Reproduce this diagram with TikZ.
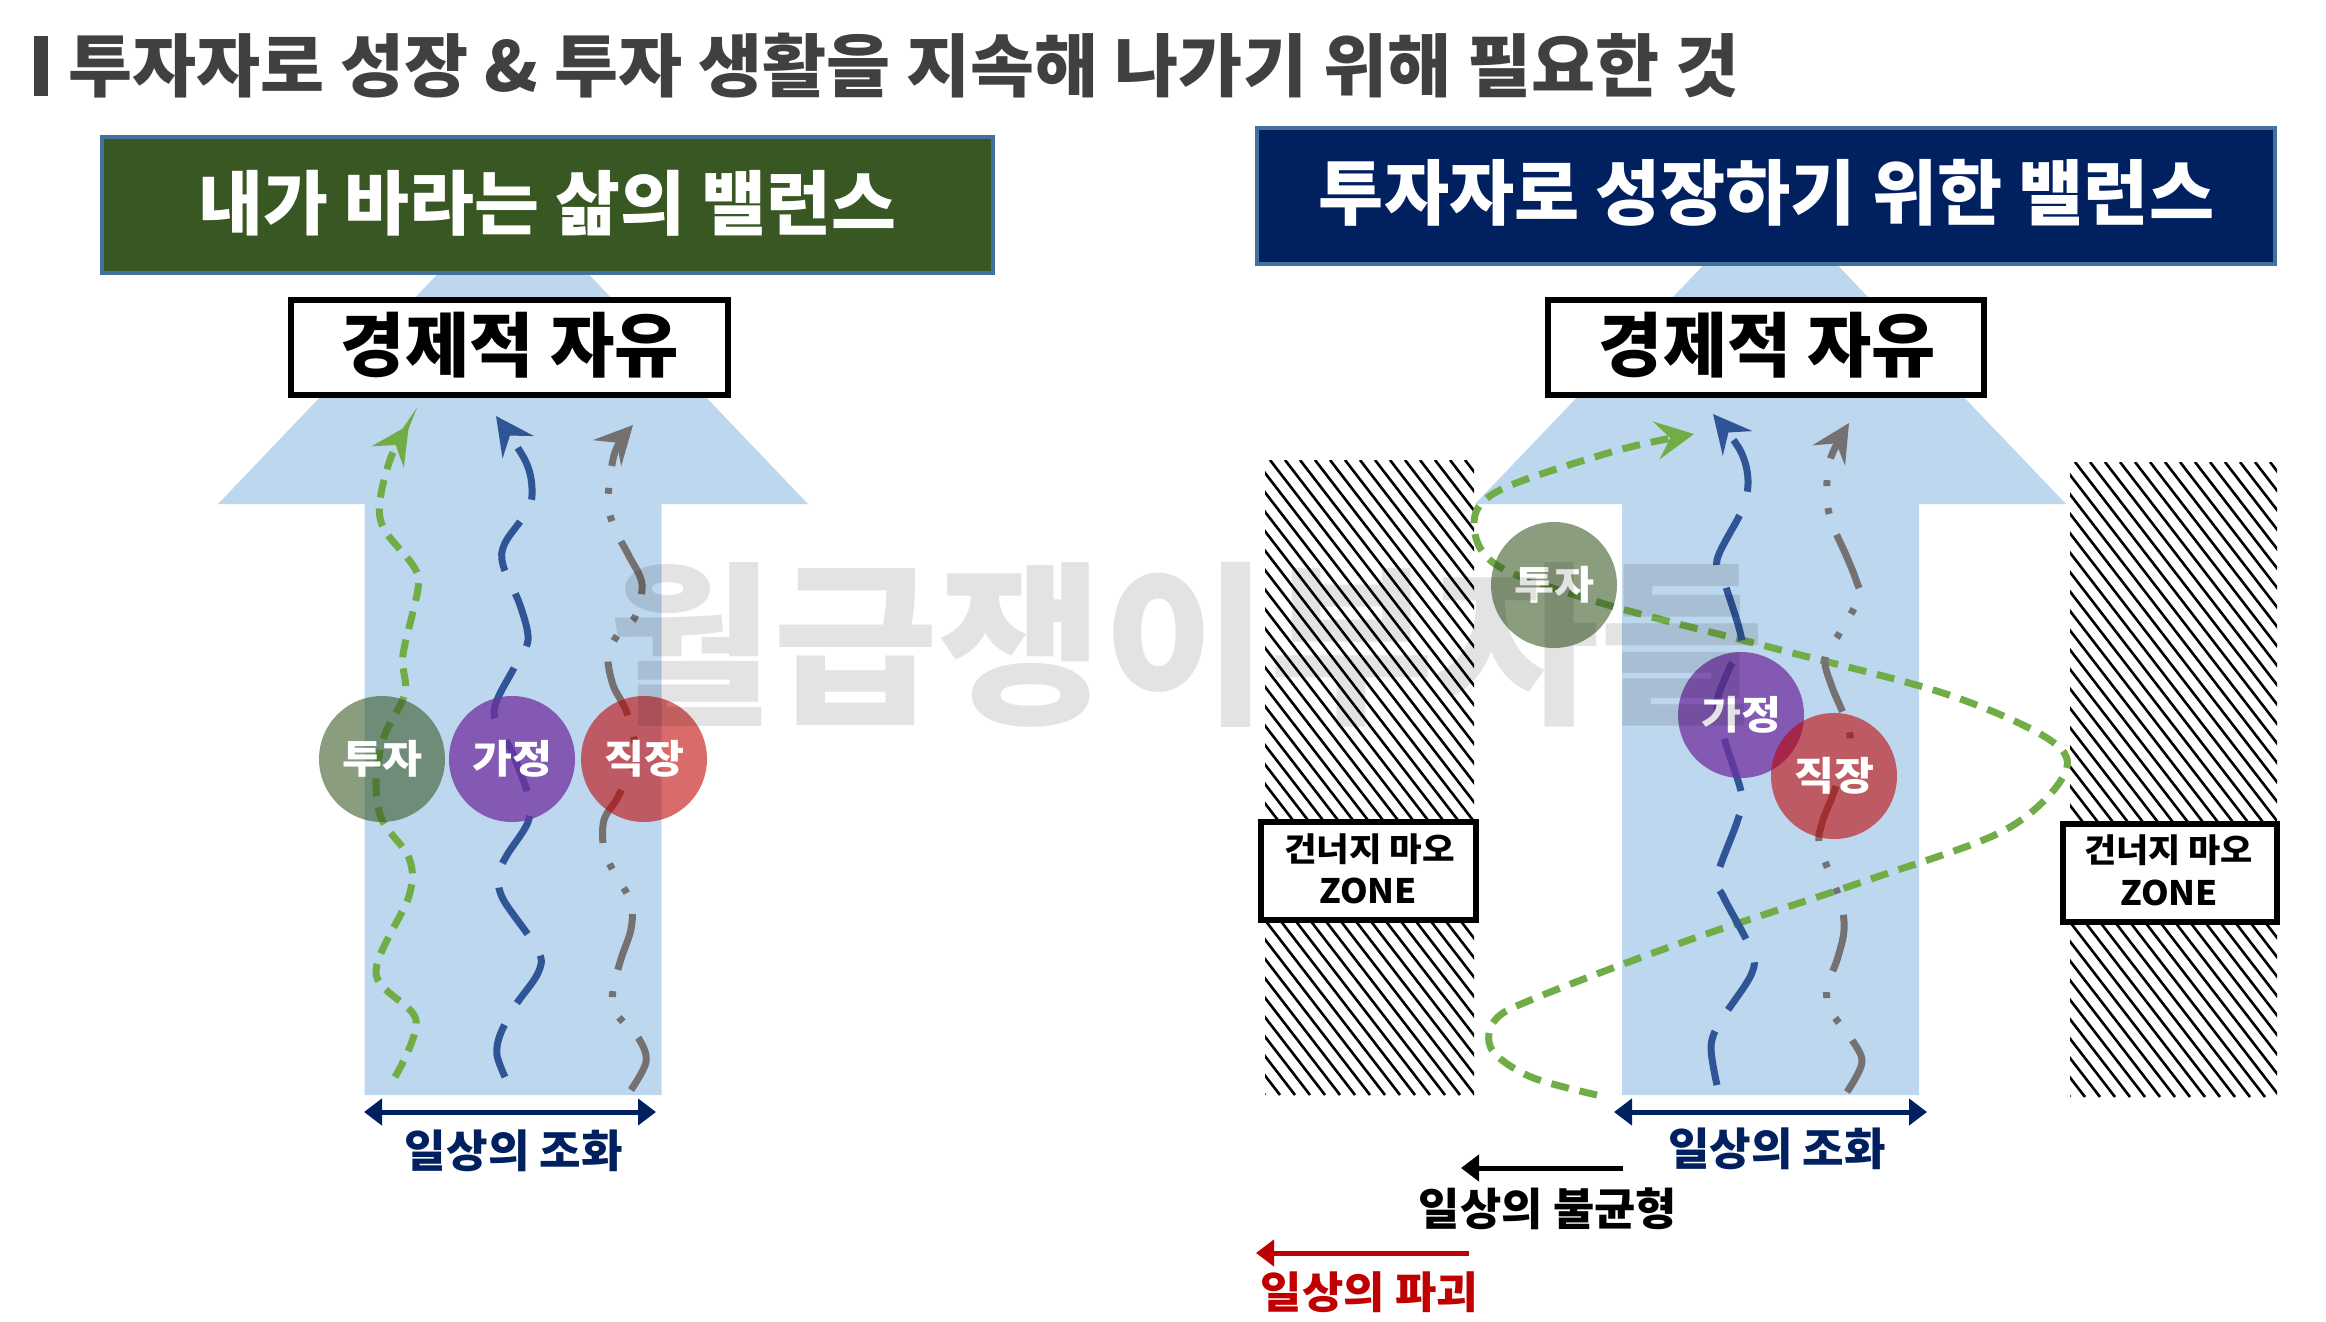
\documentclass[tikz,border=0pt]{standalone}
\usepackage{fontspec}
\usepackage{graphicx}
\setmainfont{Noto Sans CJK KR}
\usetikzlibrary{arrows.meta}
\definecolor{tgrey}{HTML}{404040}
\definecolor{hgreen}{HTML}{385723}
\definecolor{hnavy}{HTML}{002060}
\definecolor{hborder}{HTML}{41719C}
\definecolor{arrowblue}{HTML}{BDD7EE}
\definecolor{lgreen}{HTML}{70AD47}
\definecolor{lblue}{HTML}{2F5597}
\definecolor{lgrey}{HTML}{767171}
\definecolor{cpurple}{HTML}{7030A0}
\definecolor{cred}{HTML}{C00000}
\newcommand\fitbox[3]{\resizebox*{#1pt}{#2pt}{\bfseries #3}}
\begin{document}
\begin{tikzpicture}[x=1pt,y=-1pt,
  every node/.style={inner sep=0pt,outer sep=0pt},
  bigarrow/.style={fill=arrowblue,draw=none},
  header/.style={draw=hborder,line width=4.5pt,minimum height=136pt},
  freebox/.style={draw=black,line width=6pt,fill=white,minimum height=95pt},
  zonebox/.style={draw=black,line width=6pt,fill=white,minimum width=215pt,minimum height=98pt},
  tipstyle/.style={-{Stealth[length=38pt,width=38pt,inset=14pt]}},
  gpath/.style={draw=lgreen,line width=7pt,dash pattern=on 18pt off 11pt,tipstyle},
  bpath/.style={draw=lblue,line width=7pt,dash pattern=on 55pt off 25pt,tipstyle},
  ypath/.style={draw=lgrey,line width=7pt,dash pattern=on 58pt off 22pt on 6pt off 22pt on 6pt off 22pt,tipstyle},
  ball/.style={circle,minimum size=126pt,fill opacity=0.58,text opacity=1,text=white},
  hatchline/.style={line width=2.6pt,black},
  balarrow/.style={line width=5pt,{Triangle[length=18pt,width=26pt]}-{Triangle[length=18pt,width=26pt]}},
  onearrow/.style={line width=5pt,-{Triangle[length=18pt,width=26pt]}},
  crv/.style={smooth,tension=0.55}
]
\useasboundingbox (0,0) rectangle (2326,1322);

% ---------- title ----------
\fill[tgrey] (34,36) rectangle (48,96);
\node[text=tgrey] (title) at (904,65.5) {\fitbox{1670}{65}{투자자로 성장 \& 투자 생활을 지속해 나가기 위해 필요한 것}};

% ---------- big arrows ----------
\fill[bigarrow] (513,195) -- (808,504) -- (661.5,504) -- (661.5,1095) -- (364.5,1095) -- (364.5,504) -- (218,504) -- cycle;
\fill[bigarrow] (1770.5,195) -- (2066,504) -- (1919,504) -- (1919,1095) -- (1622,1095) -- (1622,504) -- (1475,504) -- cycle;

% ---------- headers ----------
\node[header,fill=hgreen,minimum width=891pt] (hdrL) at (547.5,205) {};
\node[text=white] (hdrLt) at (547.5,203) {\fitbox{697}{66}{내가 바라는 삶의 밸런스}};
\node[header,fill=hnavy,minimum width=1018pt] (hdrR) at (1766,196) {};
\node[text=white] (hdrRt) at (1766.5,192.5) {\fitbox{895}{67}{투자자로 성장하기 위한 밸런스}};

% ---------- 경제적 자유 ----------
\node[freebox,minimum width=437pt] (freeL) at (509.5,347) {};
\node (freeLt) at (510,345) {\fitbox{338}{66}{경제적 자유}};
\node[freebox,minimum width=436pt] (freeR) at (1766,347.5) {};
\node (freeRt) at (1767.5,345) {\fitbox{337}{66}{경제적 자유}};

% ---------- hatched zones ----------
\begin{scope}
\clip (1265,460) rectangle (1474,1095);
\foreach \k in {0,...,48}{\draw[hatchline] ({775+\k*15},460) -- ({1265+\k*15},1095);}
\end{scope}
\begin{scope}
\clip (2070,462) rectangle (2277,1097);
\foreach \k in {0,...,48}{\draw[hatchline] ({1580+\k*15},462) -- ({2070+\k*15},1097);}
\end{scope}

% ---------- left paths ----------
\coordinate (gLs) at (395,1077); \coordinate (gLe) at (409,425);
\coordinate (bLs) at (505,1077); \coordinate (bLe) at (496,416);
\coordinate (yLs) at (631,1090); \coordinate (yLe) at (633,425);
\draw[gpath] plot[crv] coordinates {(gLs) (416,1020) (376,973) (409,896) (409,858) (382,820) (376,781) (384,737) (405,693) (403,655) (418,589) (414,567) (384,529) (380,501) (391,457) (gLe)};
\draw[bpath] plot[crv] coordinates {(bLs) (497,1055) (500,1035) (515,1006) (538,973) (538,950) (503,899) (499,874) (507,855) (528,822) (528,795) (512,752) (494,712) (515,666) (528,640) (520,605) (503,565) (505,543) (528,510) (532,488) (525,460) (bLe)};
\draw[ypath] plot[crv] coordinates {(yLs) (646,1062) (639,1039) (615,1012) (613,990) (621,959) (631,929) (631,902) (615,874) (604,850) (604,820) (619,795) (635,754) (627,713) (613,685) (608,655) (619,633) (635,617) (642,584) (629,556) (615,529) (608,501) (615,452) (yLe)};

% ---------- right paths ----------
\coordinate (gRs) at (1597,1095); \coordinate (gRe) at (1694,434);
\coordinate (bRs) at (1717,1085); \coordinate (bRe) at (1713,414);
\coordinate (yRs) at (1847,1092); \coordinate (yRe) at (1849,423);
\draw[gpath] plot[crv] coordinates {(gRs) (1531,1077) (1492,1050) (1495,1020) (1538,997) (1689,940) (1868,880) (2005,830) (2064,775) (2050,740) (1946,694) (1773,648) (1608,605) (1498,566) (1474,523) (1500,490) (1615,451) (gRe)};
\draw[bpath] plot[crv] coordinates {(bRs) (1711,1047) (1720,1022) (1751,975) (1751,950) (1724,898) (1717,877) (1737,822) (1742,796) (1725,741) (1717,703) (1730,667) (1742,643) (1726,587) (1717,560) (1742,510) (1748,480) (1740,450) (bRe)};
\draw[ypath] plot[crv] coordinates {(yRs) (1862,1062) (1850,1037) (1830,1010) (1827,987) (1837,960) (1844,930) (1840,900) (1820,847) (1822,823) (1834,792) (1850,744) (1844,716) (1832,687) (1825,659) (1839,634) (1859,598) (1856,580) (1846,555) (1834,528) (1827,501) (1830,460) (yRe)};

% ---------- circles ----------
\node[ball,fill=hgreen] (invL) at (382,759) {\fitbox{80}{37}{투자}};
\node[ball,fill=cpurple,fill opacity=0.75] (famL) at (512,759) {\fitbox{80}{37}{가정}};
\node[ball,fill=cred] (jobL) at (644,759) {\fitbox{80}{37}{직장}};
\node[ball,fill=hgreen] (invR) at (1554,585) {\fitbox{80}{37}{투자}};
\node[ball,fill=cpurple,fill opacity=0.75] (famR) at (1741,715) {\fitbox{80}{37}{가정}};
\node[ball,fill=cred] (jobR) at (1834,776) {\fitbox{80}{37}{직장}};

% ---------- zone boxes ----------
\node[zonebox] (zoneL) at (1368.5,871) {};
\node (zoneLa) at (1369.5,849.5) {\fitbox{171}{31}{건너지 마오}};
\node (zoneLb) at (1368,891) {\fitbox{98}{26}{ZONE}};
\node[zonebox,minimum width=214pt] (zoneR) at (2170,873) {};
\node (zoneRa) at (2168.5,850) {\fitbox{169}{31}{건너지 마오}};
\node (zoneRb) at (2169,893) {\fitbox{98}{26}{ZONE}};

% ---------- bottom arrows and labels ----------
\coordinate (hLa) at (364,1112); \coordinate (hLb) at (656,1112);
\draw[balarrow,hnavy] (hLa) -- (hLb);
\node[text=hnavy] (harmL) at (514,1150.5) {\fitbox{218}{42}{일상의 조화}};
\coordinate (hRa) at (1614,1112); \coordinate (hRb) at (1927,1112);
\draw[balarrow,hnavy] (hRa) -- (hRb);
\node[text=hnavy] (harmR) at (1777,1148.5) {\fitbox{218}{42}{일상의 조화}};
\coordinate (imbA) at (1623,1168); \coordinate (imbB) at (1461,1168);
\draw[onearrow,black] (imbA) -- (imbB);
\node (imbT) at (1548,1209) {\fitbox{258}{42}{일상의 불균형}};
\coordinate (desA) at (1469,1253); \coordinate (desB) at (1256,1253);
\draw[onearrow,cred] (desA) -- (desB);
\node[text=cred] (desT) at (1369.5,1292.5) {\fitbox{217}{41}{일상의 파괴}};

% ---------- watermark ----------
\node[text=black,opacity=0.11] (wm) at (1186.5,644.5) {\fitbox{1155}{165}{월급쟁이부자들}};
\end{tikzpicture}
\end{document}
